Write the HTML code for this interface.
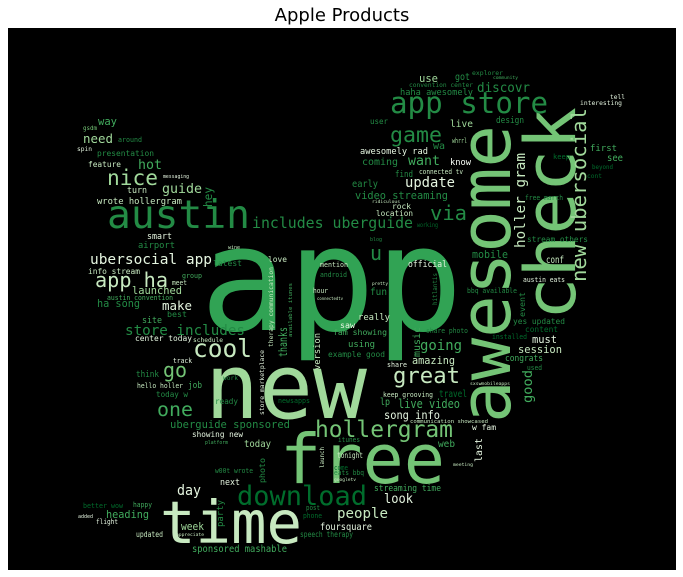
<!DOCTYPE html>
<html><head><meta charset="utf-8">
<style>
html,body{margin:0;padding:0;background:#fff;width:683px;height:577px;overflow:hidden}
svg{display:block}
</style></head>
<body>
<svg id="chart" width="683" height="577" viewBox="0 0 683 577" xmlns="http://www.w3.org/2000/svg">
<text x="342" y="21" text-anchor="middle" font-family="DejaVu Sans, Liberation Sans, sans-serif" font-size="18" fill="#000">Apple Products</text>
<rect x="8" y="28" width="668" height="542" fill="#000"/>
<g id="words" font-family="DejaVu Sans Mono, Liberation Mono, monospace"></g>
</svg>
<script>
// word, x, baseline y, font size, text length, color, rotation
const words=["app","new","free","time","awesome","check","new ubersocial","holler gram","app store","game","austin","nice","download","hollergram","cool","go","one","great","ubersocial app","app ha","includes uberguide","store includes","via","u","update","people","day","heading","week","sponsored mashable","foursquare","look","going","discovr","hot","guide","need","want","launched","way","gsdm","around","spin","presentation","feature","messaging","turn","wrote hollergram","smart","airport","info stream","latest","love","group","meet","austin convention","ha song","make","best","site","center today","schedule","track","think","hello holler","job","today w","work","ready","uberguide sponsored","showing new","today","platform","w00t wrote","next","better wow","happy","added","flight","updated","appreciate","speech therapy","post","phone","working","mobile","know","connected tv","live","design","whrrl","wa","video streaming","awesomely rad","coming","early","find","user","use","got","explorer","community","convention center","haha awesomely","interesting","tell","first","see","keep","beyond","cont","free march","rock","location","ridiculous","stream others","conf","austin eats","official","fun","bbq available","yes updated","content","installed","must","session","congrats","used","share photo","amazing","share","keep grooving","travel","lp","live video","song info","communication showcased","w fam","web","meeting","streaming time","sxswmobileapps","really","saw","fam showing","using","example good","mention","android","hour","connectedtv","wine","blog","pretty","newsapps","itunes","tonight","come","eats bbq","googletv","thanks","therapy communication","available itunes","store marketplace","version","good","music","last","photo","launch","party","hey","event","hitlantis"];
const xs=[200,205,280,160,510,575,586,525,390,390,107,107,237,315,193,163,157,393,90,95,252,125,430,370,405,337,177,106,181,192,320,384,420,477,138,162,83,408,132,98,83,118,77,97,88,163,127,97,147,138,88,213,268,182,172,107,97,162,167,142,135,193,173,136,137,188,156,223,215,170,192,244,205,215,220,83,133,78,96,136,176,300,306,303,417,472,450,419,450,496,452,433,355,360,362,352,395,370,419,455,472,493,409,400,580,610,590,607,553,592,587,525,392,376,372,527,546,523,408,370,467,513,525,492,532,518,505,527,426,412,387,383,439,380,398,384,410,472,438,453,374,470,358,340,333,348,328,320,320,313,317,228,370,372,278,338,337,334,334,334,287,273,292,264,320,532,420,482,265,324,223,212,525,437];
const ys=[330,418,483,543,423,320,282,248,113,142,228,185,505,437,357,377,416,383,264,287,228,335,220,260,187,518,495,518,530,552,530,503,350,92,169,193,143,165,294,125,130,142,151,156,167,178,193,204,239,248,274,266,262,278,285,300,307,310,317,323,341,342,363,377,388,388,397,380,404,428,437,447,444,473,485,508,507,518,524,537,536,537,510,518,227,258,165,174,127,123,143,149,199,154,165,187,177,124,82,80,75,79,87,95,105,99,151,161,159,169,178,200,209,216,203,242,263,282,267,295,293,324,332,339,343,353,361,370,333,364,367,397,397,405,408,419,423,430,447,466,491,385,320,328,335,347,357,267,277,293,300,249,241,285,403,442,458,470,475,481,357,347,337,415,370,403,357,462,483,468,527,207,317,305];
const sizes=[155,105,70,60,76,72,20,15,29,26,50,30,30,28,27,28,27,24,14,22,17,15,22,28,17,18,20,15,15,13,13,18,20,18,17,17,15,18,15,13,8,8,9,10,11,7,12,12,12,12,11,11,11,10,10,10,14,15,11,12,11,9,10,12,10,12,11,9,11,15,11,13,6,10,12,9,10,6,10,11,6,11,10,10,9,15,12,10,13,12,10,14,15,12,13,13,12,10,14,14,9,5,9,11,9,9,12,14,9,9,9,10,11,10,6,11,13,10,12,14,10,11,11,10,14,14,12,10,10,13,10,10,13,14,17,16,7,11,13,6,12,5,12,11,11,12,11,10,10,10,6,6,6,6,9,10,11,10,10,6,16,8,7,8,10,16,10,11,11,8,10,12,10,8];
const lens=[263,162,165,142,298,213,174,95,158,52,143,51,130,138,59,24,36,67,122,73,161,120,37,12,50,51,24,43,23,95,52,29,42,53,24,40,30,32,50,19,14,24,15,57,33,26,20,85,25,37,52,29,19,20,15,66,43,30,20,20,57,30,19,23,46,14,32,15,23,120,51,27,23,38,20,40,19,15,22,27,28,53,14,19,21,36,21,44,23,28,15,12,93,68,36,26,18,18,19,15,31,25,64,73,42,15,27,16,17,21,15,38,19,37,28,61,18,42,39,17,50,52,33,35,25,44,38,15,42,43,20,50,28,10,62,56,78,24,17,20,67,40,32,15,54,27,57,28,27,15,26,12,12,16,32,22,26,14,30,22,30,80,54,65,37,33,30,24,25,21,27,20,25,32];
const colors=["#31a354","#a1d99b","#74c476","#c7e9c0","#74c476","#74c476","#a1d99b","#c7e9c0","#238b45","#238b45","#238b45","#a1d99b","#006d2c","#74c476","#c7e9c0","#74c476","#41ab5d","#c7e9c0","#e5f5e0","#c7e9c0","#238b45","#238b45","#238b45","#238b45","#e5f5e0","#c7e9c0","#e5f5e0","#41ab5d","#a1d99b","#41ab5d","#e5f5e0","#e5f5e0","#41ab5d","#238b45","#41ab5d","#a1d99b","#a1d99b","#41ab5d","#a1d99b","#41ab5d","#74c476","#238b45","#e5f5e0","#238b45","#c7e9c0","#e5f5e0","#c7e9c0","#c7e9c0","#e5f5e0","#238b45","#c7e9c0","#238b45","#c7e9c0","#41ab5d","#c7e9c0","#41ab5d","#238b45","#e5f5e0","#238b45","#41ab5d","#e5f5e0","#c7e9c0","#e5f5e0","#238b45","#c7e9c0","#41ab5d","#238b45","#238b45","#238b45","#238b45","#e5f5e0","#a1d99b","#41ab5d","#238b45","#e5f5e0","#006d2c","#41ab5d","#e5f5e0","#e5f5e0","#c7e9c0","#c7e9c0","#238b45","#238b45","#006d2c","#006d2c","#238b45","#f7fcf5","#c7e9c0","#a1d99b","#238b45","#a1d99b","#238b45","#238b45","#e5f5e0","#238b45","#238b45","#238b45","#238b45","#a1d99b","#238b45","#238b45","#41ab5d","#238b45","#238b45","#e5f5e0","#e5f5e0","#41ab5d","#41ab5d","#006d2c","#006d2c","#006d2c","#238b45","#c7e9c0","#c7e9c0","#c7e9c0","#238b45","#c7e9c0","#e5f5e0","#e5f5e0","#238b45","#238b45","#238b45","#006d2c","#006d2c","#e5f5e0","#c7e9c0","#41ab5d","#238b45","#238b45","#c7e9c0","#e5f5e0","#c7e9c0","#006d2c","#41ab5d","#41ab5d","#e5f5e0","#c7e9c0","#e5f5e0","#41ab5d","#c7e9c0","#41ab5d","#c7e9c0","#c7e9c0","#e5f5e0","#41ab5d","#41ab5d","#238b45","#c7e9c0","#238b45","#c7e9c0","#c7e9c0","#c7e9c0","#238b45","#c7e9c0","#006d2c","#238b45","#c7e9c0","#006d2c","#238b45","#c7e9c0","#41ab5d","#c7e9c0","#41ab5d","#e5f5e0","#c7e9c0","#41ab5d","#41ab5d","#e5f5e0","#238b45","#c7e9c0","#238b45","#238b45","#238b45","#238b45"];
const vertical=["awesome","check","new ubersocial","holler gram","thanks","therapy communication","available itunes","store marketplace","version","good","music","last","photo","launch","party","hey","event","hitlantis"];

const g=document.getElementById('words');
const NS='http://www.w3.org/2000/svg';
for(let i=0;i<words.length;i++){
  const fromWidth=lens[i]/(0.602*words[i].length);
  const fs=Math.max(0.72*sizes[i],Math.min(1.05*sizes[i],fromWidth));
  const t=document.createElementNS(NS,'text');
  
  
  t.setAttribute('x',xs[i]);
  t.setAttribute('y',ys[i]);
  t.setAttribute('font-size',fs.toFixed(1));
  t.setAttribute('fill',colors[i]);
  t.setAttribute('textLength',lens[i]);
  t.setAttribute('lengthAdjust','spacingAndGlyphs');
  if(vertical.indexOf(words[i])>=0){
    t.setAttribute('transform','rotate(-90 '+xs[i]+' '+ys[i]+')');
  }
  t.textContent=words[i];
  g.appendChild(t);
}
</script>
</body></html>
